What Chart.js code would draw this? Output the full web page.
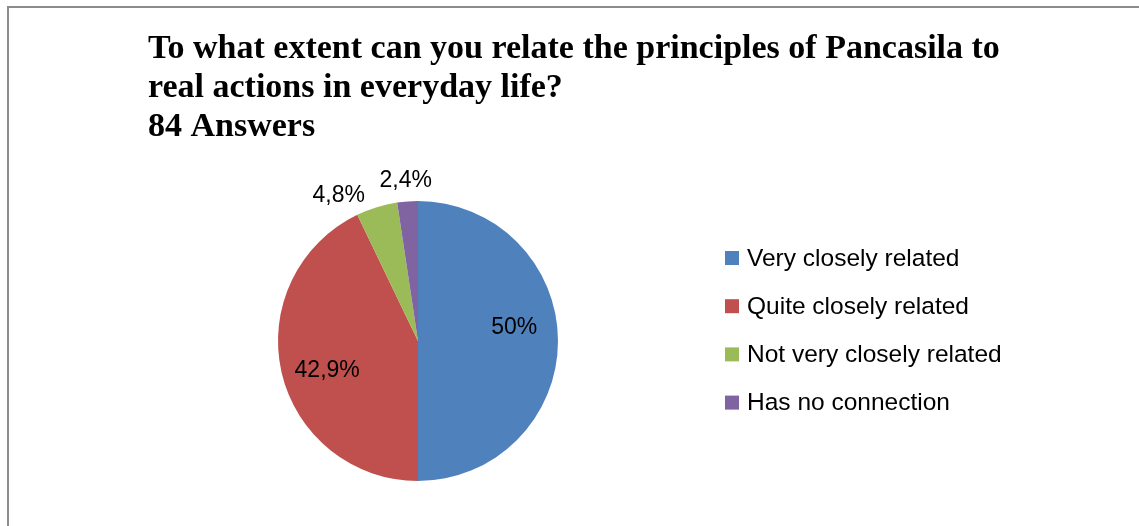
<!DOCTYPE html>
<html>
<head>
<meta charset="utf-8">
<script src="https://cdn.jsdelivr.net/npm/chart.js@4/dist/chart.umd.min.js"></script>
<style>
  html, body { margin: 0; padding: 0; background: #fff; }
  #wrap { width: 1139px; height: 526px; position: relative; }
</style>
</head>
<body>
<div id="wrap"><canvas id="pieChart" width="1139" height="526"></canvas></div>
<script>
const titleLines = [
  'To what extent can you relate the principles of Pancasila to',
  'real actions in everyday life?',
  '84 Answers'
];
const categories = ['Very closely related', 'Quite closely related', 'Not very closely related', 'Has no connection'];
const answers = [42, 36, 4, 2];
const sliceColors = ['#4F81BD', '#C0504D', '#9BBB59', '#8064A2'];

// where each percentage sits: fraction of the radius, then a small nudge
const labelRadius = [0.68, 0.68, 1.17, 1.17];
const labelNudge = [[1, -13], [2, 8], [-31, 11], [0, 3]];

const total = answers.reduce((a, b) => a + b, 0);
const percentText = v => {
  const p = Math.round(v / total * 1000) / 10;
  return String(p).replace('.', ',') + '%';
};

const frame = {
  id: 'frame',
  beforeDraw(chart) {
    const ctx = chart.ctx;
    ctx.save();
    ctx.fillStyle = '#fff';
    ctx.fillRect(0, 0, chart.width, chart.height);
    ctx.strokeStyle = '#8c8c8c';
    ctx.lineWidth = 2;
    ctx.beginPath();
    ctx.moveTo(8, chart.height);
    ctx.lineTo(8, 7);
    ctx.lineTo(chart.width, 7);
    ctx.stroke();

    ctx.fillStyle = '#000';
    ctx.font = 'bold 34px "Liberation Serif"';
    ctx.textBaseline = 'alphabetic';
    titleLines.forEach((line, i) => ctx.fillText(line, 148, 58 + i * 39));
    ctx.restore();
  }
};

const sideLegend = {
  id: 'sideLegend',
  afterDraw(chart) {
    const ctx = chart.ctx;
    ctx.save();
    ctx.font = '24.5px "Liberation Sans"';
    ctx.textBaseline = 'middle';
    categories.forEach((name, i) => {
      const y = 258 + i * 48.2;
      ctx.fillStyle = sliceColors[i];
      ctx.fillRect(725, y - 7, 14, 14);
      ctx.fillStyle = '#000';
      ctx.fillText(name, 747, y + 1);
    });
    ctx.restore();
  }
};

const sliceLabels = {
  id: 'sliceLabels',
  afterDatasetsDraw(chart) {
    const ctx = chart.ctx;
    const arcs = chart.getDatasetMeta(0).data;
    ctx.save();
    ctx.font = '23px "Liberation Sans"';
    ctx.fillStyle = '#000';
    ctx.textAlign = 'center';
    ctx.textBaseline = 'middle';
    arcs.forEach((arc, i) => {
      const mid = (arc.startAngle + arc.endAngle) / 2;
      const r = arc.outerRadius * labelRadius[i];
      const x = arc.x + Math.cos(mid) * r + labelNudge[i][0];
      const y = arc.y + Math.sin(mid) * r + labelNudge[i][1];
      ctx.fillText(percentText(answers[i]), x, y);
    });
    ctx.restore();
  }
};

new Chart(document.getElementById('pieChart'), {
  type: 'pie',
  data: {
    labels: categories,
    datasets: [{
      data: answers,
      backgroundColor: sliceColors,
      borderWidth: 0
    }]
  },
  options: {
    responsive: false,
    animation: false,
    layout: { padding: { left: 278, top: 201, right: 581, bottom: 45 } },
    plugins: {
      legend: { display: false },
      tooltip: { enabled: false }
    }
  },
  plugins: [frame, sideLegend, sliceLabels]
});
</script>
</body>
</html>
